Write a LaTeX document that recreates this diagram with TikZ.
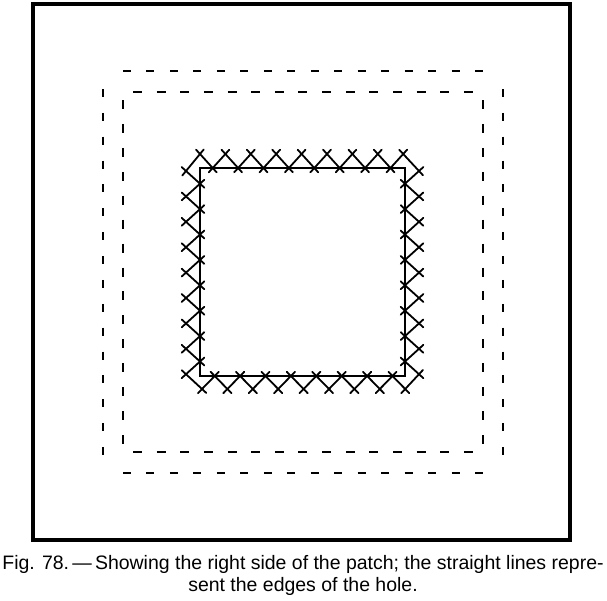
\documentclass[tikz,border=0pt]{standalone}
\usepackage{fontspec}
\setmainfont{Liberation Sans}
\usetikzlibrary{calc}
\tikzset{
  frameline/.style={line width=2.5pt, line join=miter},
  holeline/.style={line width=1.5pt},
  stitchline/.style={line width=1.35pt, line cap=round},
  dashline/.style={line width=1.3pt},
  captiontext/.style={font=\fontsize{14.6pt}{17pt}\selectfont, inner sep=0pt, anchor=base}
}
\newcommand{\ext}{4.4pt}
\newcommand{\stitch}[2]{\draw[stitchline] ($(#1)!-\ext!(#2)$) -- ($(#2)!-\ext!(#1)$);}
% \hdashes{y}{x0}{period}{count}{length}
\newcommand{\hdashes}[5]{\foreach \i in {1,...,#4}{\draw[dashline] ({#2+(\i-1)*#3},#1) -- ({#2+(\i-1)*#3+#5},#1);}}
\newcommand{\vdashes}[5]{\foreach \i in {1,...,#4}{\draw[dashline] (#1,{#2+(\i-1)*#3}) -- (#1,{#2+(\i-1)*#3+#5});}}
\begin{document}
\begin{tikzpicture}[x=0.75pt,y=-0.75pt]
\useasboundingbox (0,0) rectangle (607,600);
% outer frame
\draw[frameline] (33,4) rectangle (570,540);
% outer dashed square
\hdashes{71}{123}{23.47}{16}{8}
\hdashes{473}{123}{23.47}{16}{8}
\vdashes{103}{89}{23.87}{16}{8}
\vdashes{503}{89}{23.87}{16}{8}
% inner dashed square
\hdashes{92}{133}{23.64}{15}{9}
\hdashes{452}{133}{23.64}{15}{9}
\vdashes{123}{100}{23.93}{15}{9}
\vdashes{483}{100}{23.93}{15}{9}
% edges of the hole
\draw[holeline] (200,168) rectangle (405,376);
% stitch points
\foreach \k in {0,...,8}{
  \coordinate (t\k) at ({200+25.4*\k},154);
  \coordinate (ro\k) at (419,{171+25.4*\k});
  \coordinate (bl\k) at ({202+25.4*\k},389);
  \coordinate (lo\k) at (186,{171+25.4*\k});
}
\foreach \k in {0,...,7}{
  \coordinate (tv\k) at ({212.7+25.4*\k},168);
  \coordinate (ri\k) at (405,{183.7+25.4*\k});
  \coordinate (bi\k) at ({214.7+25.4*\k},376);
  \coordinate (li\k) at (200,{183.7+25.4*\k});
}
% herringbone stitches
\foreach \k [evaluate=\k as \n using int(\k+1)] in {0,...,7}{
  \stitch{t\k}{tv\k}
  \stitch{tv\k}{t\n}
  \stitch{ro\k}{ri\k}
  \stitch{ri\k}{ro\n}
  \stitch{bl\k}{bi\k}
  \stitch{bi\k}{bl\n}
  \stitch{lo\k}{li\k}
  \stitch{li\k}{lo\n}
}
\stitch{t8}{ro0}
\stitch{ro8}{bl8}
\stitch{bl0}{lo8}
\stitch{lo0}{t0}
% caption
\node[captiontext] (cap1) at (303,569) {Fig. 78.\,---\,Showing the right side of the patch; the straight lines repre-};
\node[captiontext] (cap2) at (303,591) {sent the edges of the hole.};
\end{tikzpicture}
\end{document}
